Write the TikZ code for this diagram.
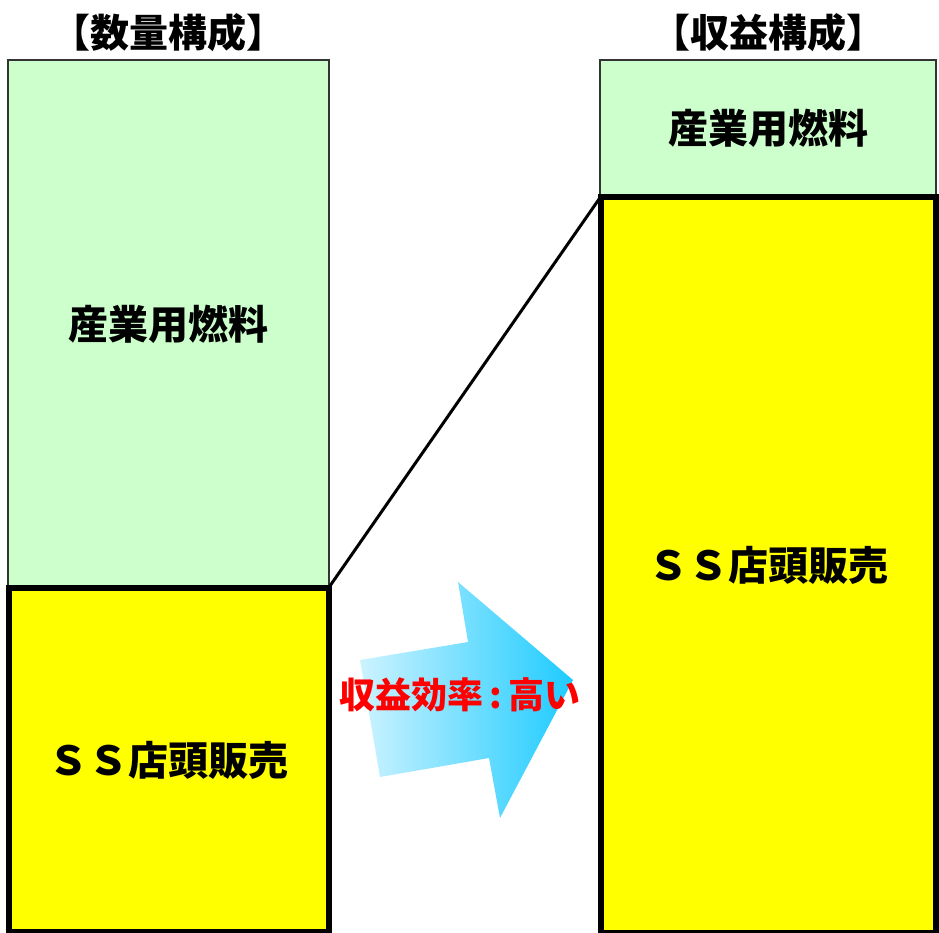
\documentclass[tikz,border=0pt]{standalone}
\usepackage{fontspec}
\newfontfamily\jpfont{Noto Sans CJK JP}
\usepackage{xcolor}
\usetikzlibrary{positioning}

\definecolor{fuelgreen}{HTML}{CCFFCC}
\definecolor{ssyellow}{HTML}{FFFF00}
\definecolor{arrowpale}{HTML}{CCF3FF}
\definecolor{arrowdeep}{HTML}{1ECBFF}

\begin{document}
\begin{tikzpicture}[x=1pt, y=-1pt, outer sep=0pt,
    fuelbox/.style={draw=black!80, line width=1.5pt, fill=fuelgreen, inner sep=0pt},
    ssbox/.style={draw=black, line width=6pt, fill=ssyellow, inner sep=0pt},
    boxtext/.style={font=\jpfont\bfseries\fontsize{40}{48}\selectfont},
    titletext/.style={font=\jpfont\bfseries\fontsize{39}{46}\selectfont}]
                \useasboundingbox (0,0) rectangle (939,932);
                % left column: volume
                \node [fuelbox, boxtext, minimum width=321pt, minimum height=528pt] (qtyfuel) at (168.5,324) {産業用燃料};
                \node [ssbox, boxtext, minimum width=320pt, minimum height=344pt, below=0pt of qtyfuel] (qtyss) {ＳＳ店頭販売};
                \node [titletext, above=5pt of qtyfuel] (qtytitle) {【数量構成】};
                % right column: revenue
                \node [fuelbox, boxtext, minimum width=336pt, minimum height=137pt] (revfuel) at (768,128.5) {産業用燃料};
                \node [ssbox, boxtext, minimum width=335pt, minimum height=736pt, below=0pt of revfuel] (revss) {ＳＳ店頭販売};
                \node [titletext, above=5pt of revfuel] (revtitle) {【収益構成】};
                % link and arrow
                \draw [line width=3pt] (qtyss.north east) -- (revss.north west);
                \path [left color=arrowpale, right color=arrowdeep]
                    (360,660) -- (468,642) -- (458,582) -- (573,680) -- (500,818) -- (489,758) -- (380,777) -- cycle;
                \node [text=red, font=\jpfont\bfseries\fontsize{36}{42}\selectfont] (gain) at (460,695) {収益効率\,:\,高い};
\end{tikzpicture}
\end{document}
